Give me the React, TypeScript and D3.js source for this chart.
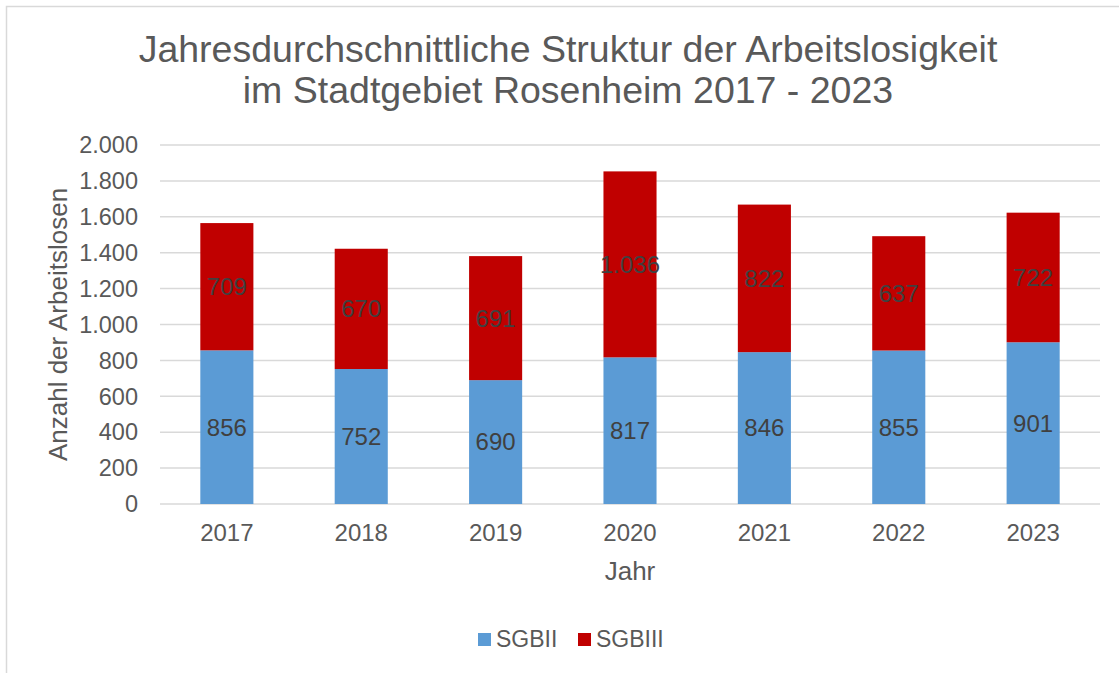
import React from "react";
import * as d3 from "d3";

const years = ["2017", "2018", "2019", "2020", "2021", "2022", "2023"];
const sgbII = [856, 752, 690, 817, 846, 855, 901];
const sgbIII = [709, 670, 691, 1036, 822, 637, 722];
const yTicks = [0, 200, 400, 600, 800, 1000, 1200, 1400, 1600, 1800, 2000];
const seriesNames = ["SGBII", "SGBIII"];
const colors = ["#5B9BD5", "#C00000"];

const W = 1119;
const H = 673;
const font = "'Liberation Sans', Arial, sans-serif";
const fmt = (v: number) => d3.format(",")(v).replace(/,/g, ".");

export default function App() {
  const left = 160, right = 1100, top = 145, bottom = 504;
  const x = d3.scaleBand<string>().domain(years).range([left, right]).paddingInner(0.605).paddingOuter(0.3);
  const y = d3.scaleLinear().domain([0, 2000]).range([bottom, top]);
  const data = years.map((yr, i) => ({ yr, a: sgbII[i], b: sgbIII[i] }));
  const stack = d3.stack<any>().keys(["a", "b"])(data);

  return (
    <svg width={W} height={H} style={{ position: "absolute", left: 0, top: 0, background: "#fff" }} fontFamily={font}>
      <rect x={6.5} y={6.5} width={W + 10} height={H + 10} fill="#fff" stroke="#D9D9D9" strokeWidth={1.5} />
      <text x={568} y={62} textAnchor="middle" fontSize={37.5} fill="#595959">Jahresdurchschnittliche Struktur der Arbeitslosigkeit</text>
      <text x={568} y={103} textAnchor="middle" fontSize={37.5} fill="#595959">im Stadtgebiet Rosenheim 2017 - 2023</text>
      {yTicks.map((t) => (
        <g key={t}>
          <line x1={left} x2={right} y1={y(t)} y2={y(t)} stroke="#D9D9D9" strokeWidth={1.5} />
          <text x={138} y={y(t)} dy="0.35em" textAnchor="end" fontSize={23.5} fill="#595959">{fmt(t)}</text>
        </g>
      ))}
      {stack.map((s, si) =>
        s.map((d, i) => (
          <rect key={si + "-" + i} x={x(years[i])} width={x.bandwidth()} y={y(d[1])} height={y(d[0]) - y(d[1])} fill={colors[si]} />
        ))
      )}
      {stack.map((s, si) =>
        s.map((d, i) => (
          <text key={"l" + si + "-" + i} x={(x(years[i]) as number) + x.bandwidth() / 2} y={y((d[0] + d[1]) / 2)} dy="0.35em" textAnchor="middle" fontSize={24} fill="#404040">
            {fmt(d[1] - d[0])}
          </text>
        ))
      )}
      {years.map((yr) => (
        <text key={yr} x={(x(yr) as number) + x.bandwidth() / 2} y={533} dy="0.35em" textAnchor="middle" fontSize={24} fill="#595959">{yr}</text>
      ))}
      <text x={630} y={571} dy="0.35em" textAnchor="middle" fontSize={26} fill="#595959">Jahr</text>
      <text transform={`translate(58,${(top + bottom) / 2}) rotate(-90)`} dy="0.35em" textAnchor="middle" fontSize={26} fill="#595959">Anzahl der Arbeitslosen</text>
      {seriesNames.map((n, i) => {
        const lx = i === 0 ? 478 : 578;
        return (
          <g key={n}>
            <rect x={lx} y={633} width={13} height={13} fill={colors[i]} />
            <text x={lx + 18} y={639} dy="0.35em" fontSize={23} fill="#595959">{n}</text>
          </g>
        );
      })}
    </svg>
  );
}
